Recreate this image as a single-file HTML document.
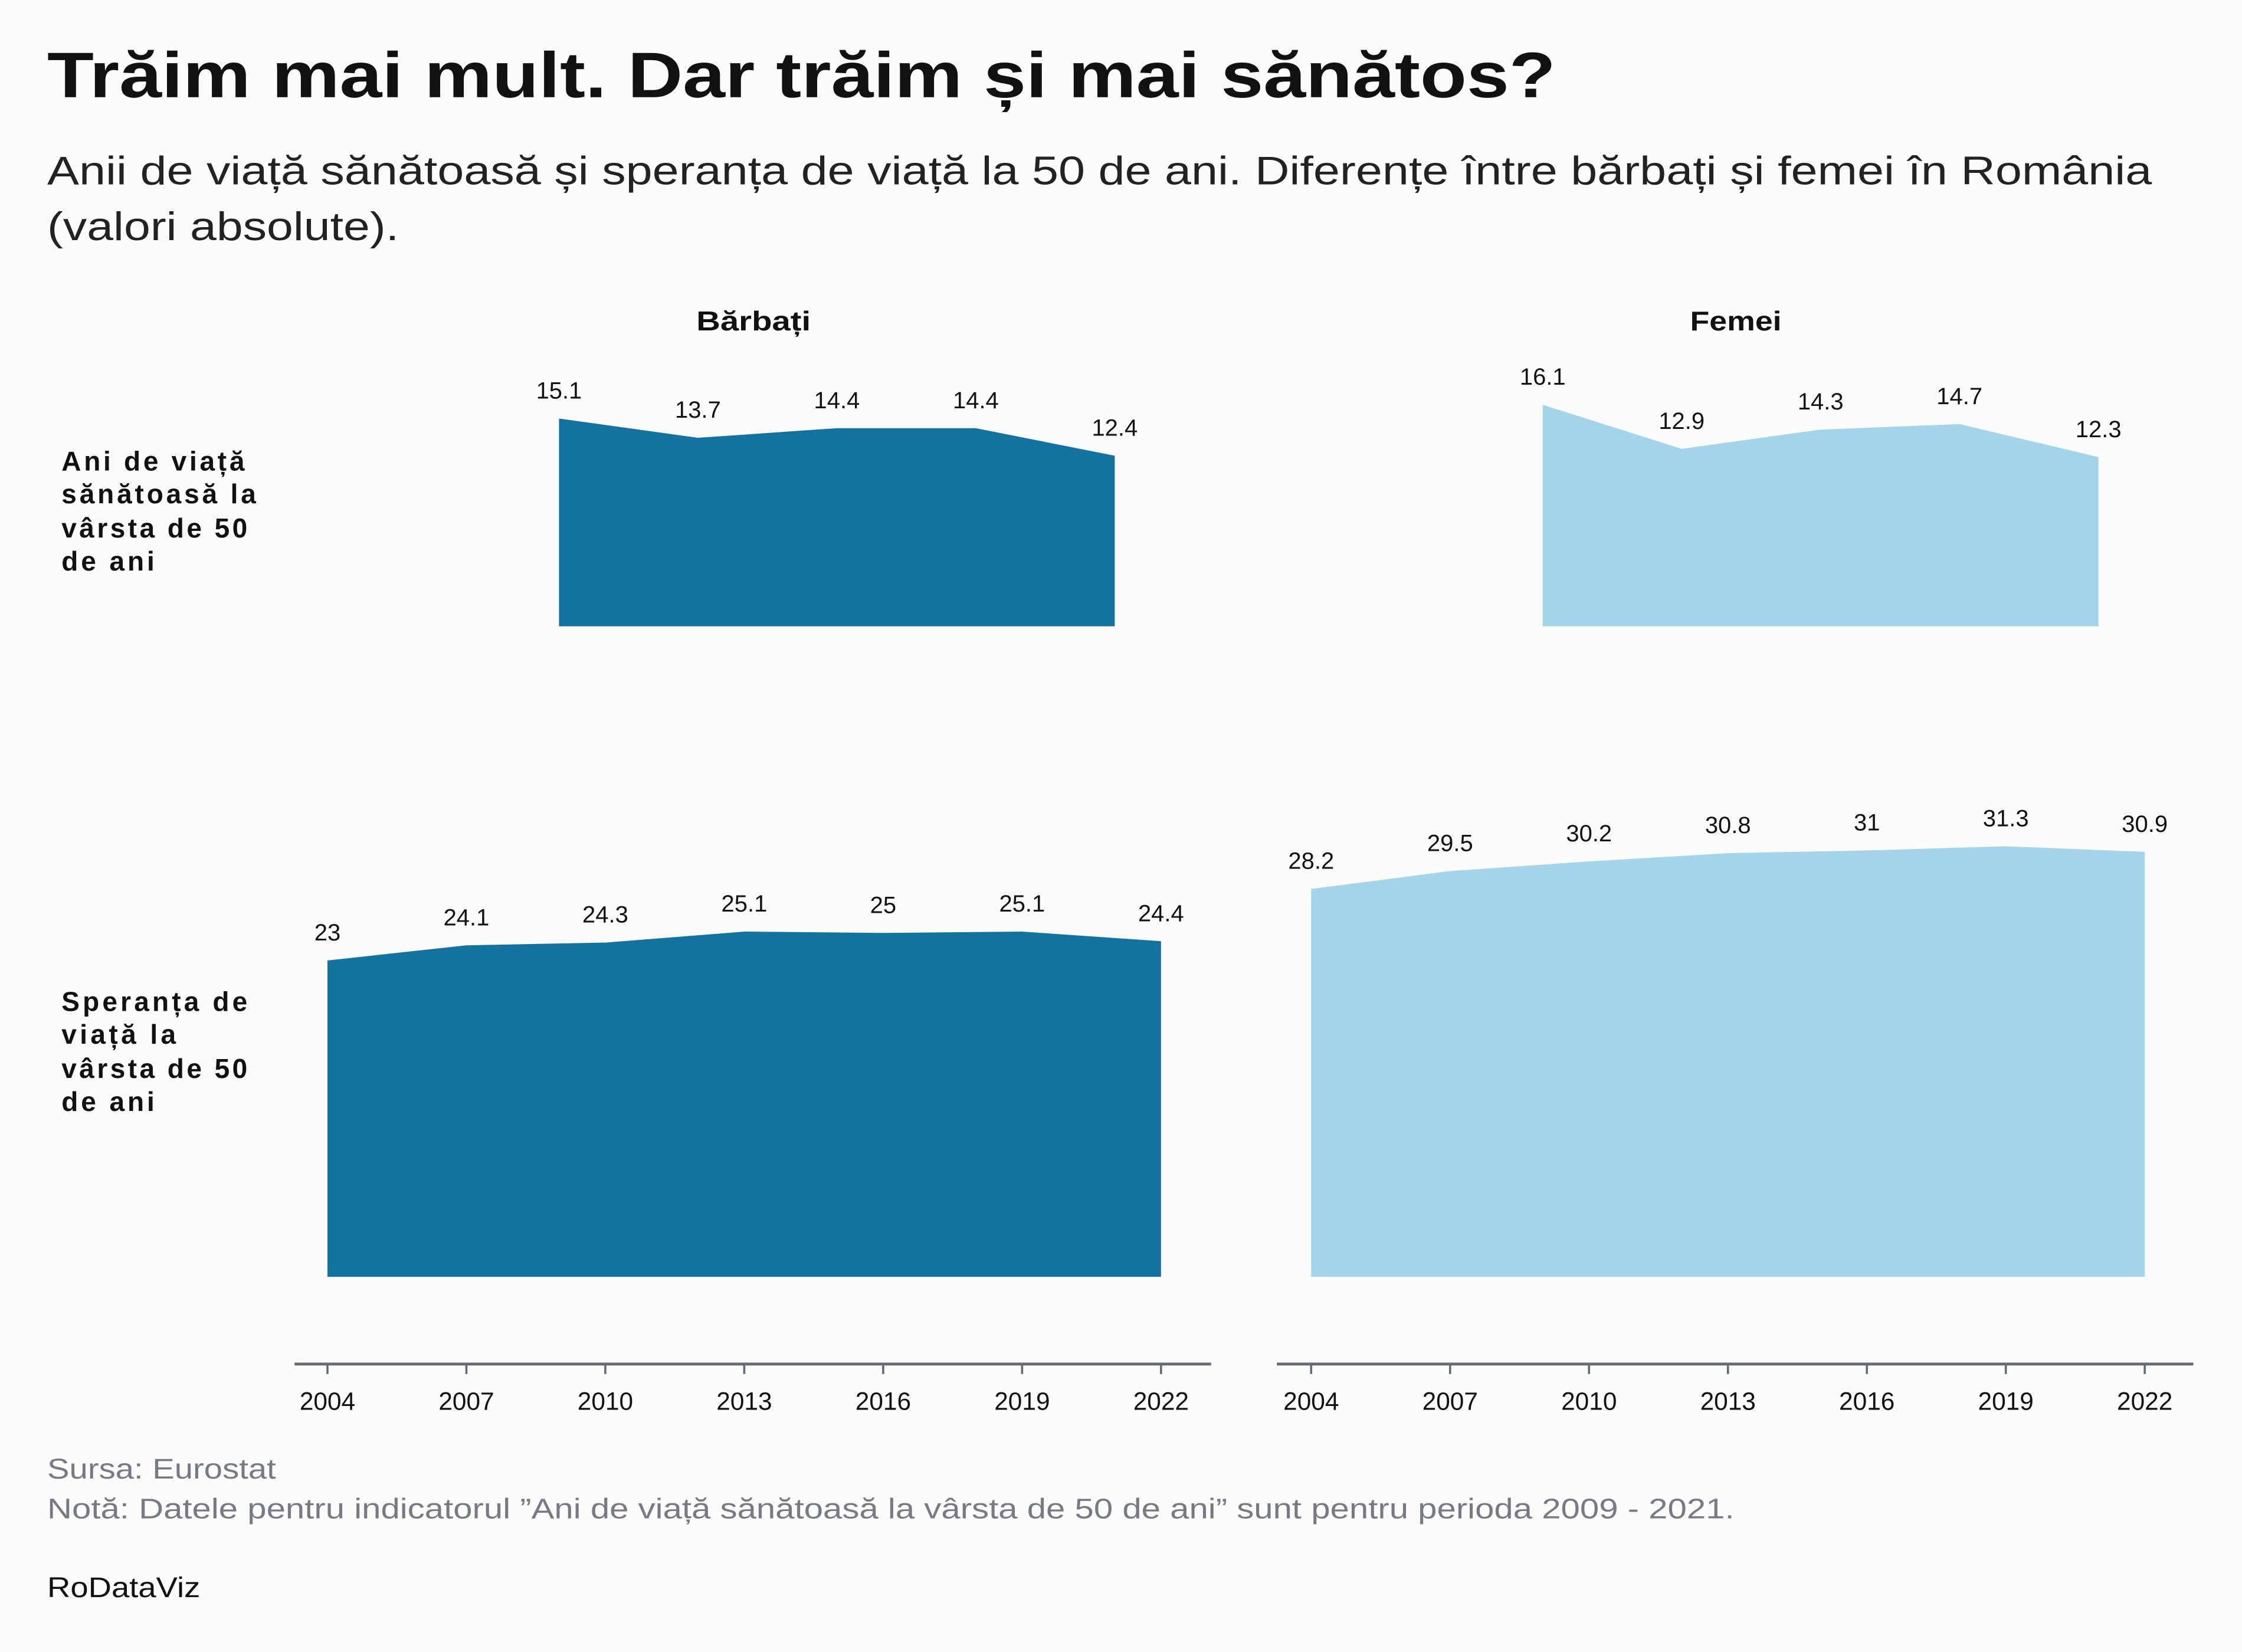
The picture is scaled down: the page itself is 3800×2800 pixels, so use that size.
<!DOCTYPE html>
<html><head><meta charset="utf-8">
<style>
html,body{margin:0;padding:0;background:#fcfcfc;}
svg{display:block;font-family:"Liberation Sans","DejaVu Sans",sans-serif;}
</style></head>
<body>
<svg id="chart" width="3800" height="2800" viewBox="0 0 1568 1155.4" xmlns="http://www.w3.org/2000/svg">
<rect width="1568" height="1155.4" fill="#fcfcfc"/>
<text x="33" y="68" font-size="45" font-weight="bold" fill="#111" textLength="1055" lengthAdjust="spacingAndGlyphs">Trăim mai mult. Dar trăim și mai sănătos?</text>
<text x="33" y="129" font-size="28" fill="#222" textLength="1472" lengthAdjust="spacingAndGlyphs">Anii de viață sănătoasă și speranța de viață la 50 de ani. Diferențe între bărbați și femei în România</text>
<text x="33" y="168" font-size="28" fill="#222" textLength="246" lengthAdjust="spacingAndGlyphs">(valori absolute).</text>
<text x="487" y="231" font-size="19" font-weight="bold" fill="#111" textLength="80" lengthAdjust="spacingAndGlyphs">Bărbați</text>
<text x="1182" y="231" font-size="19" font-weight="bold" fill="#111" textLength="64" lengthAdjust="spacingAndGlyphs">Femei</text>
<g font-size="19" font-weight="bold" fill="#111" lengthAdjust="spacingAndGlyphs">
<text x="43" y="329" textLength="128">Ani de viață</text><text x="43" y="352" textLength="136">sănătoasă la</text><text x="43" y="376" textLength="130">vârsta de 50</text><text x="43" y="399" textLength="65">de ani</text></g>
<g font-size="19" font-weight="bold" fill="#111">
<text x="43" y="707" textLength="130">Speranța de</text><text x="43" y="730" textLength="80">viață la</text><text x="43" y="754" textLength="130">vârsta de 50</text><text x="43" y="777" textLength="65">de ani</text></g>
<g id="marks"></g>
<text x="33" y="1034" font-size="20" fill="#777a85" textLength="160" lengthAdjust="spacingAndGlyphs">Sursa: Eurostat</text>
<text x="33" y="1062" font-size="20" fill="#777a85" textLength="1180" lengthAdjust="spacingAndGlyphs">Notă: Datele pentru indicatorul ”Ani de viață sănătoasă la vârsta de 50 de ani” sunt pentru perioda 2009 - 2021.</text>
<text x="33" y="1117" font-size="20" fill="#111" textLength="107" lengthAdjust="spacingAndGlyphs">RoDataViz</text>
</svg>
<script>
const topYears = [2009, 2012, 2015, 2018, 2021];
const menHealthy = [15.1, 13.7, 14.4, 14.4, 12.4];
const womenHealthy = [16.1, 12.9, 14.3, 14.7, 12.3];
const bottomYears = [2004, 2007, 2010, 2013, 2016, 2019, 2022];
const menLife = [23, 24.1, 24.3, 25.1, 25, 25.1, 24.4];
const womenLife = [28.2, 29.5, 30.2, 30.8, 31, 31.3, 30.9];
const tickYears = [2004, 2007, 2010, 2013, 2016, 2019, 2022];

const NS = "http://www.w3.org/2000/svg";
const g = document.getElementById('marks');
const pxPerYear = (812 - 229) / 18;
const pxPerUnit = 9.62;
function xScale(panelX0, yr){ return panelX0 + (yr - 2004) * pxPerYear; }
function yScale(base, v){ return base - v * pxPerUnit; }
function mk(tag, attrs){ const e = document.createElementNS(NS, tag); for (const k in attrs) e.setAttribute(k, attrs[k]); g.appendChild(e); return e; }

function area(years, vals, x0, base, color, name){
  let d = 'M' + xScale(x0, years[0]) + ',' + base;
  years.forEach((yr, i) => { d += ' L' + xScale(x0, yr) + ',' + yScale(base, vals[i]); });
  d += ' L' + xScale(x0, years[years.length-1]) + ',' + base + ' Z';
  const p = mk('path', {d: d, fill: color});
  
  
  years.forEach((yr, i) => {
    const t = mk('text', {x: xScale(x0, yr), y: yScale(base, vals[i]) - 14, 'font-size': 16.5, 'text-anchor': 'middle', fill: '#111'});
    t.textContent = String(vals[i]);
    
    
  });
}
const MEN = '#13729f', WOMEN = '#a4d4ea';
area(topYears, menHealthy, 229, 438, MEN, 'area-men-healthy-years');
area(topYears, womenHealthy, 917, 438, WOMEN, 'area-women-healthy-years');
area(bottomYears, menLife, 229, 893, MEN, 'area-men-life-expectancy');
area(bottomYears, womenLife, 917, 893, WOMEN, 'area-women-life-expectancy');

function axis(x0, xa, xb, name){
  const l = mk('line', {x1: xa, x2: xb, y1: 954, y2: 954, stroke: '#666a75', 'stroke-width': 2});
  
  
  tickYears.forEach(yr => {
    const x = xScale(x0, yr);
    const tk = mk('line', {x1: x, x2: x, y1: 954, y2: 961, stroke: '#666a75', 'stroke-width': 1.5});
    
    
    const t = mk('text', {x: x, y: 986, 'font-size': 17.5, 'text-anchor': 'middle', fill: '#111'});
    t.textContent = String(yr);
    
    
  });
}
axis(229, 206, 847, 'x-axis-men');
axis(917, 893, 1534, 'x-axis-women');
</script>
</body></html>
